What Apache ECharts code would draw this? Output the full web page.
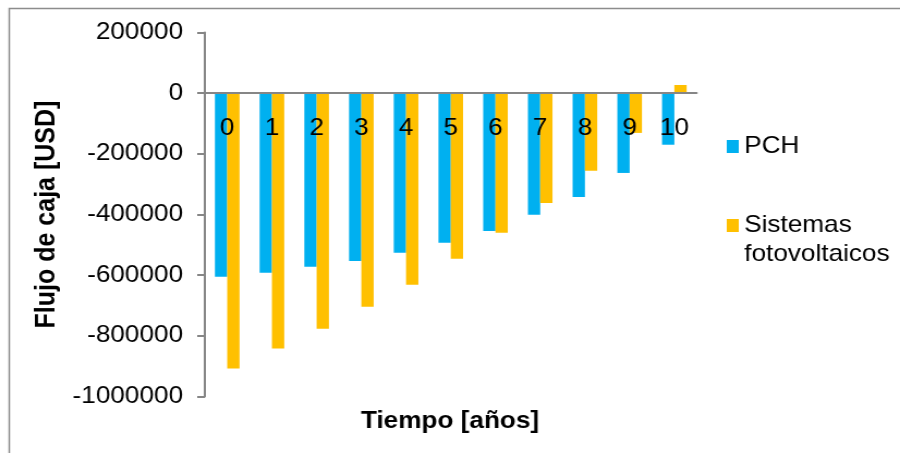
<!DOCTYPE html>
<html>
<head>
<meta charset="utf-8">
<script src="https://cdn.jsdelivr.net/npm/echarts@6/dist/echarts.min.js"></script>
<style>
  html, body { margin: 0; padding: 0; background: #fff; overflow: hidden; }
  #wrap { width: 900px; height: 453px; overflow: hidden; }
  /* chart is laid out narrower and stretched horizontally */
  #chart { width: 826px; height: 453px; transform: scaleX(1.0896); transform-origin: 0 0; }
</style>
</head>
<body>
<div id="wrap"><div id="chart"></div></div>
<script>
// Flujo de caja acumulado por año
const years = ['0', '1', '2', '3', '4', '5', '6', '7', '8', '9', '10'];
const pch = [-605000, -592000, -572000, -553000, -526000, -493000, -454000, -401000, -342000, -263000, -170000];
const fotovoltaicos = [-908000, -842000, -777000, -704000, -632000, -546000, -460000, -362000, -256000, -131000, 27000];
const yTicks = { min: -1000000, max: 200000, step: 200000 };

const FONT = '"Liberation Sans", Arial, sans-serif';
const AXIS_GRAY = '#868686';
const GRID = { left: 188, right: 186.6, top: 32.5, bottom: 56.5 };

const chart = echarts.init(document.getElementById('chart'), null, { renderer: 'canvas' });

const option = {
  animation: false,
  backgroundColor: '#ffffff',
  textStyle: { fontFamily: FONT },
  graphic: [{
    type: 'rect',
    shape: { x: 8.5, y: 8.5, width: 900, height: 500 },
    style: { fill: 'none', stroke: '#8c8c8c', lineWidth: 1.5 },
    silent: true,
    z: -10
  }],
  title: {
    text: 'Tiempo [años]',
    left: 'center',
    top: 404,
    textStyle: { fontFamily: FONT, fontSize: 24, fontWeight: 'bold', color: '#000' }
  },
  grid: Object.assign({ containLabel: false }, GRID),
  legend: {
    orient: 'vertical',
    left: 662,
    top: 127,
    itemWidth: 11,
    itemHeight: 13,
    itemGap: 21,
    icon: 'rect',
    textStyle: { fontFamily: FONT, fontSize: 24, color: '#000', lineHeight: 29 },
    data: [
      { name: 'PCH' },
      { name: 'Sistemas fotovoltaicos' }
    ],
    formatter: function (name) {
      return name === 'PCH' ? 'PCH' : '\nSistemas\nfotovoltaicos';
    }
  },
  xAxis: {
    type: 'category',
    data: years,
    position: 'bottom',
    offset: 0,
    z: 10,
    axisLine: { onZero: false, lineStyle: { color: AXIS_GRAY, width: 2 } },
    axisTick: { show: false },
    axisLabel: { color: '#000', fontFamily: FONT, fontSize: 24, margin: 23, interval: 0 },
    splitLine: { show: false }
  },
  yAxis: {
    type: 'value',
    min: yTicks.min,
    max: yTicks.max,
    interval: yTicks.step,
    name: 'Flujo de caja [USD]',
    nameLocation: 'middle',
    nameGap: 108,
    nameRotate: 90,
    nameTextStyle: { fontFamily: FONT, fontSize: 25, fontWeight: 'bold', color: '#000' },
    axisLine: { show: true, lineStyle: { color: AXIS_GRAY, width: 2 } },
    axisTick: { show: true, length: 7, lineStyle: { color: AXIS_GRAY, width: 2 } },
    axisLabel: {
      color: '#000', fontFamily: FONT, fontSize: 24, margin: 20,
      formatter: function (v) { return String(v); }
    },
    splitLine: { show: false }
  },
  series: [
    {
      name: 'PCH',
      type: 'bar',
      data: pch,
      barGap: '0%',
      barCategoryGap: '45%',
      itemStyle: { color: '#00B0F0' }
    },
    {
      name: 'Sistemas fotovoltaicos',
      type: 'bar',
      data: fotovoltaicos,
      barGap: '0%',
      barCategoryGap: '45%',
      itemStyle: { color: '#FFC000' }
    }
  ]
};

chart.setOption(option);

// move the category axis (line and labels) up to the zero level of the value axis
const zeroY = chart.convertToPixel({ yAxisIndex: 0 }, 0);
const gridBottomY = 453 - GRID.bottom;
chart.setOption({ xAxis: { offset: zeroY - gridBottomY } });
</script>
</body>
</html>
